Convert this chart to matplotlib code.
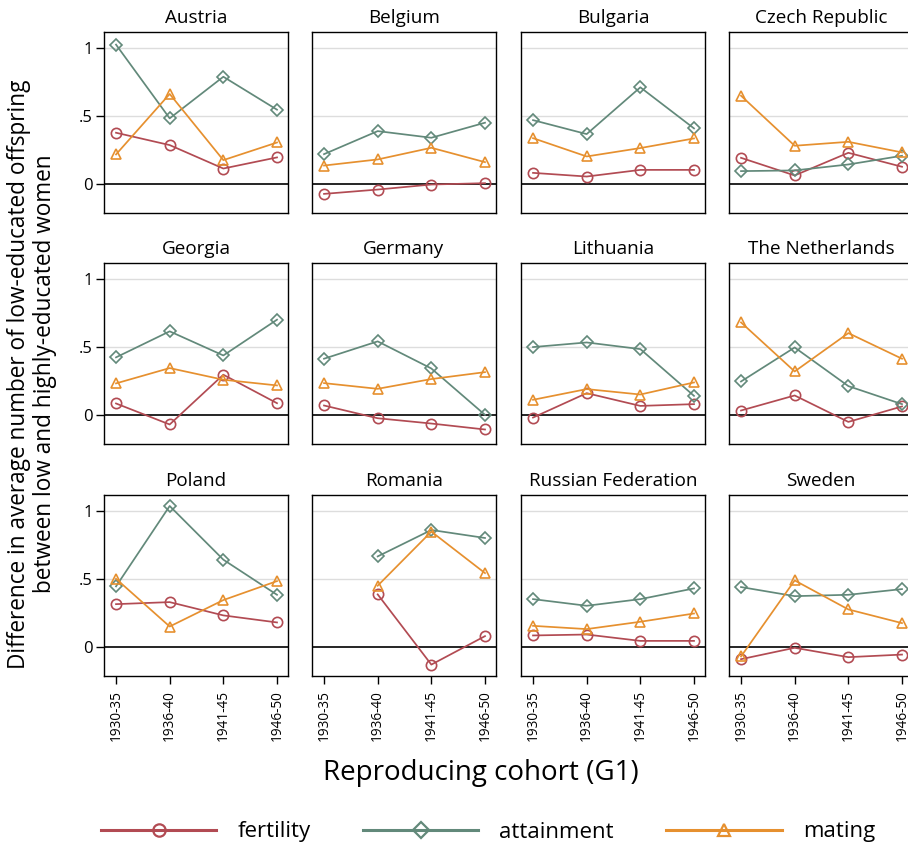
import numpy as np
import matplotlib
matplotlib.use("Agg")
from matplotlib import pyplot as plt
from matplotlib.lines import Line2D

plt.rcParams["font.family"] = ["Open Sans", "DejaVu Sans"]

cohorts = ["1930-35", "1936-40", "1941-45", "1946-50"]
countries = ["Austria", "Belgium", "Bulgaria", "Czech Republic",
             "Georgia", "Germany", "Lithuania", "The Netherlands",
             "Poland", "Romania", "Russian Federation", "Sweden"]

# one row per country, nan = no estimate
fertility = [
    [0.377, 0.286, 0.113, 0.195],
    [-0.074, -0.042, -0.005, 0.005],
    [0.081, 0.054, 0.103, 0.103],
    [0.192, 0.062, 0.229, 0.126],
    [0.084, -0.071, 0.296, 0.086],
    [0.069, -0.025, -0.064, -0.108],
    [-0.020, 0.160, 0.066, 0.079],
    [0.032, 0.143, -0.052, 0.062],
    [0.315, 0.330, 0.232, 0.180],
    [np.nan, 0.387, -0.131, 0.079],
    [0.084, 0.091, 0.044, 0.044],
    [-0.091, -0.007, -0.076, -0.057],
]
attainment = [
    [1.027, 0.483, 0.790, 0.547],
    [0.219, 0.389, 0.340, 0.451],
    [0.470, 0.367, 0.712, 0.409],
    [0.094, 0.099, 0.143, 0.207],
    [0.424, 0.616, 0.438, 0.702],
    [0.414, 0.542, 0.342, 0.000],
    [0.500, 0.534, 0.485, 0.140],
    [0.246, 0.497, 0.212, 0.079],
    [0.446, 1.039, 0.643, 0.384],
    [np.nan, 0.667, 0.862, 0.803],
    [0.352, 0.303, 0.352, 0.431],
    [0.441, 0.374, 0.384, 0.426],
]
mating = [
    [0.217, 0.663, 0.175, 0.305],
    [0.135, 0.180, 0.266, 0.160],
    [0.337, 0.202, 0.264, 0.335],
    [0.650, 0.281, 0.310, 0.232],
    [0.232, 0.345, 0.259, 0.217],
    [0.234, 0.192, 0.264, 0.315],
    [0.111, 0.190, 0.150, 0.239],
    [0.682, 0.320, 0.603, 0.414],
    [0.502, 0.150, 0.345, 0.485],
    [np.nan, 0.451, 0.850, 0.544],
    [0.155, 0.131, 0.185, 0.246],
    [-0.071, 0.490, 0.276, 0.175],
]

series = [("fertility", fertility, "#b24b53", "o", 7.4),
          ("attainment", attainment, "#62897a", "D", 6.6),
          ("mating", mating, "#e6902f", "^", 7.8)]

W, H = 908, 849
fig = plt.figure(figsize=(W / 100, H / 100), dpi=100)

col_left = [104, 312, 521, 729]
row_top = [32, 263, 495]
pw, ph = 184, 181

x = np.arange(len(cohorts))
for i, name in enumerate(countries):
    r, c = divmod(i, 4)
    ax = fig.add_axes([col_left[c] / W, 1 - (row_top[r] + ph) / H, pw / W, ph / H])
    for yv in (0.5, 1):
        ax.axhline(yv, color="#dddddd", lw=1.0, zorder=0)
    ax.axhline(0, color="black", lw=1.2, zorder=1)
    for lab, data, col, mk, ms in series:
        ax.plot(x, data[i], color=col, lw=1.25, marker=mk, ms=ms,
                mfc="none", mec=col, mew=1.2, zorder=3)
    ax.set_xlim(-0.224, 3.205)
    ax.set_ylim(-0.215, 1.12)
    ax.set_title(name, fontsize=13.6, pad=6.5)
    for s in ax.spines.values():
        s.set_linewidth(1.0)
    ax.set_yticks([0, 0.5, 1])
    ax.set_xticks(x)
    if c == 0:
        ax.set_yticklabels(["0", ".5", "1"], fontsize=12)
        ax.tick_params(axis="y", length=6, width=1, pad=2)
    else:
        ax.tick_params(axis="y", length=0, labelleft=False)
    if r == 2:
        ax.set_xticklabels(cohorts, rotation=90, fontsize=9.8)
        ax.tick_params(axis="x", length=6, width=1, pad=4)
    else:
        ax.tick_params(axis="x", length=0, labelbottom=False)

fig.text(32 / W, 1 - 374 / H,
         "Difference in average number of low-educated offspring\nbetween low and highly-educated women",
         rotation=90, ha="center", va="center", fontsize=16.3, multialignment="center",
         linespacing=1.08)
fig.text(481 / W, 1 - 773 / H, "Reproducing cohort (G1)", ha="center", va="center",
         fontsize=20)

handles = [Line2D([], [], color=col, lw=2.2, marker=mk, ms=ms + 1.5, mfc="none",
                  mec=col, mew=1.6, label=lab)
           for lab, data, col, mk, ms in series]
fig.legend(handles=handles, loc="center", bbox_to_anchor=(488 / W, 1 - 832 / H),
           ncol=3, frameon=False, fontsize=16, handlelength=5.2,
           handletextpad=0.95, columnspacing=2.35)

fig.savefig("out.png", dpi=100)
